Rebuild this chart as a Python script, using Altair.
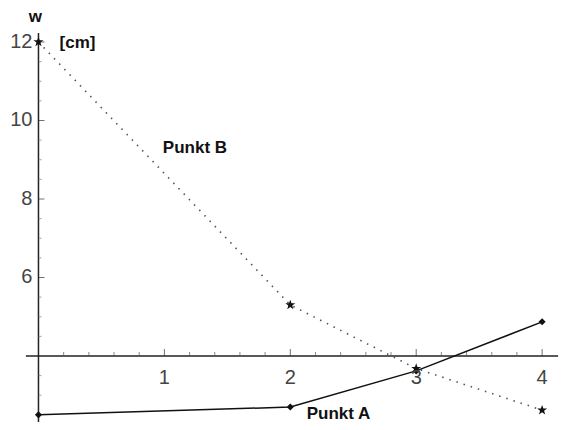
import altair as alt
import pandas as pd

# data
x_vals = [0, 2, 3, 4]
punkt_a = [2.5, 2.7, 3.62, 4.87]
punkt_b = [12.0, 5.3, 3.68, 2.62]

x_major = [1, 2, 3, 4]
x_minor = [0.2, 0.4, 0.6, 0.8, 1.2, 1.4, 1.6, 1.8, 2.2, 2.4, 2.6, 2.8,
           3.2, 3.4, 3.6, 3.8]
y_major = [6, 8, 10, 12]
y_minor = [2.5, 3, 3.5, 4.5, 5, 5.5, 6.5, 7, 7.5, 8.5, 9, 9.5,
           10.5, 11, 11.5]

W, H = 554, 414
xs = alt.Scale(domain=[-0.242, 4.158], nice=False, zero=False)
ys = alt.Scale(domain=[2.318, 12.866], nice=False, zero=False)

def X(field="x"):
    return alt.X(field, type="quantitative", scale=xs, axis=None)

def Y(field="y"):
    return alt.Y(field, type="quantitative", scale=ys, axis=None)

df_a = pd.DataFrame({"x": x_vals, "y": punkt_a})
df_b = pd.DataFrame({"x": x_vals, "y": punkt_b})

# axis lines (crossing at y = 4)
xaxis = alt.Chart(pd.DataFrame({"x": [-0.1], "x2": [4.127], "y": [4]})).mark_rule(
    color="#222", strokeWidth=1.3).encode(x=X(), x2="x2", y=Y())
yaxis = alt.Chart(pd.DataFrame({"x": [0], "y": [2.19], "y2": [12.23]})).mark_rule(
    color="#222", strokeWidth=1.5).encode(x=X(), y=Y(), y2="y2")

xmaj_ticks = alt.Chart(pd.DataFrame({"x": x_major, "y": [4] * len(x_major)})).mark_tick(
    orient="vertical", size=7, thickness=1, color="#333", yOffset=-3.5).encode(x=X(), y=Y())
xmin_ticks = alt.Chart(pd.DataFrame({"x": x_minor, "y": [4] * len(x_minor)})).mark_tick(
    orient="vertical", size=4, thickness=1, color="#555", yOffset=-2).encode(x=X(), y=Y())
ymaj_ticks = alt.Chart(pd.DataFrame({"y": y_major, "x": [0] * len(y_major)})).mark_tick(
    orient="horizontal", size=6, thickness=1, color="#333", xOffset=3).encode(x=X(), y=Y())
ymin_ticks = alt.Chart(pd.DataFrame({"y": y_minor, "x": [0] * len(y_minor)})).mark_tick(
    orient="horizontal", size=3, thickness=1, color="#777", xOffset=1.5).encode(x=X(), y=Y())

ylabels = alt.Chart(pd.DataFrame({"y": y_major, "x": [0] * len(y_major),
                                  "t": [str(v) for v in y_major]})).mark_text(
    align="right", baseline="middle", dx=-6, fontSize=20, font="Liberation Sans",
    color="#444").encode(x=X(), y=Y(), text="t:N")
xlabels = alt.Chart(pd.DataFrame({"x": x_major, "y": [4] * len(x_major),
                                  "t": [str(v) for v in x_major]})).mark_text(
    align="center", baseline="middle", dy=22, fontSize=20, font="Liberation Sans",
    color="#444").encode(x=X(), y=Y(), text="t:N")

line_b = alt.Chart(df_b).mark_line(color="#555", strokeWidth=1.6,
                                   strokeDash=[1.5, 6]).encode(x=X(), y=Y())
pts_b = alt.Chart(df_b).mark_point(shape="M0,-1L0.24,-0.31L0.95,-0.31L0.38,0.12L0.59,0.81L0,0.4L-0.59,0.81L-0.38,0.12L-0.95,-0.31L-0.24,-0.31Z",
                                   size=110, filled=True, color="#111", opacity=1).encode(x=X(), y=Y())
line_a = alt.Chart(df_a).mark_line(color="#111", strokeWidth=1.5).encode(x=X(), y=Y())
pts_a = alt.Chart(df_a).mark_point(shape="diamond", size=50, filled=True,
                                   color="#111", opacity=1).encode(x=X(), y=Y())

texts = pd.DataFrame({
    "x": [-0.024, 0.31, 1.243, 2.383],
    "y": [12.624, 11.97, 9.30, 2.53],
    "t": ["w", "[cm]", "Punkt B", "Punkt A"],
})
labels = alt.Chart(texts).mark_text(
    align="center", baseline="middle", fontSize=17, font="Liberation Sans",
    fontWeight="bold", color="#111").encode(x=X(), y=Y(), text="t:N")

chart = alt.layer(
    xaxis, yaxis, xmin_ticks, xmaj_ticks, ymin_ticks, ymaj_ticks,
    line_b, line_a, pts_a, pts_b, ylabels, xlabels, labels
).properties(
    width=W, height=H, padding=0, autosize=alt.AutoSizeParams(type="none")
).configure_view(stroke=None)

chart.save("out.html", embed_options={"renderer": "svg", "actions": False})
